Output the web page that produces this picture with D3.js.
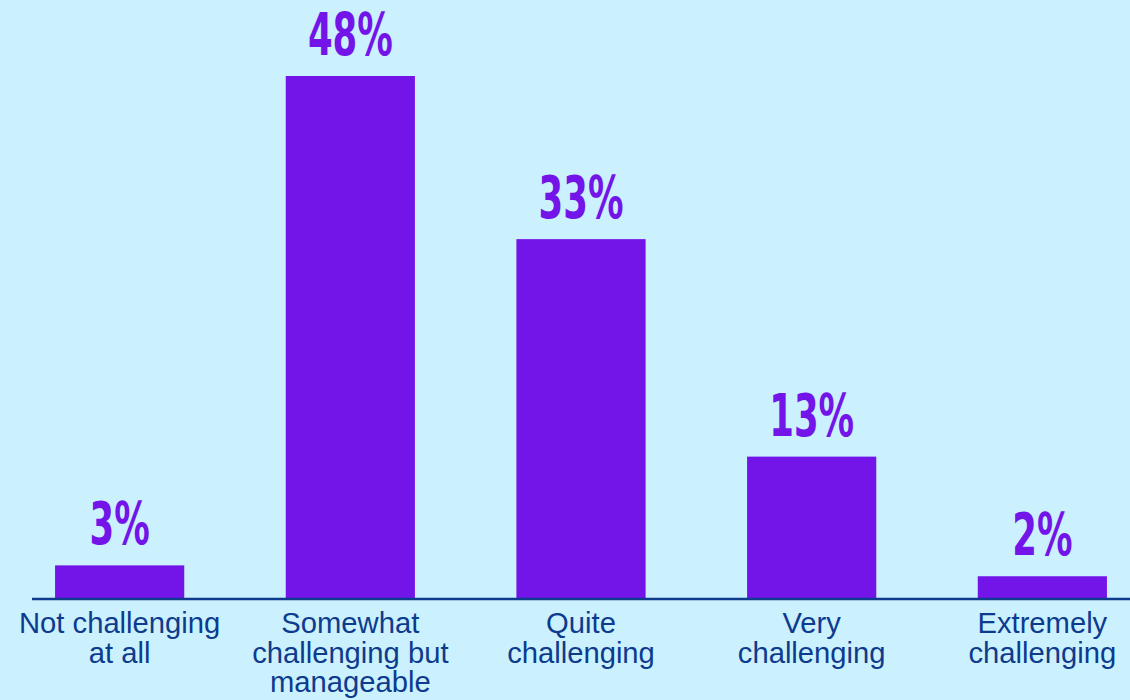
<!DOCTYPE html>
<html>
<head>
<meta charset="utf-8">
<script src="https://cdn.jsdelivr.net/npm/d3@7"></script>
<style>
  html, body { margin: 0; padding: 0; background: #caf1fd; }
  svg { display: block; }
</style>
</head>
<body>
<div id="container"></div>
<script>
const width = 1130,
  height = 700,
  margin = { top: 0, bottom: 102, left: 32, right: 0 };

// data
const categories = [
  "Not challenging at all",
  "Somewhat challenging but manageable",
  "Quite challenging",
  "Very challenging",
  "Extremely challenging"
];
const labelLines = [
  ["Not challenging", "at all"],
  ["Somewhat", "challenging but", "manageable"],
  ["Quite", "challenging"],
  ["Very", "challenging"],
  ["Extremely", "challenging"]
];
const values = [3, 48, 33, 13, 2];

const data = categories.map((c, i) => ({ cat: c, value: values[i], lines: labelLines[i] }));

const svg = d3.select("#container")
  .append("svg")
  .attr("width", width)
  .attr("height", height);

const xScale = d3.scaleBand()
  .domain(categories)
  .range([margin.left, width - margin.right])
  .paddingInner(0.44)
  .paddingOuter(0.1);

const baseY = height - margin.bottom;

const yScale = d3.scaleLinear()
  .domain([0, 48])
  .range([baseY, 76]);

// bars
svg.selectAll(".bar")
  .data(data)
  .join("rect")
  .attr("class", "bar")
  .attr("x", d => xScale(d.cat))
  .attr("y", d => yScale(d.value))
  .attr("width", xScale.bandwidth())
  .attr("height", d => baseY - yScale(d.value))
  .attr("fill", "#7314e8");

// baseline
svg.append("line")
  .attr("x1", margin.left)
  .attr("x2", width)
  .attr("y1", baseY + 1)
  .attr("y2", baseY + 1)
  .attr("stroke", "#0d3b8e")
  .attr("stroke-width", 2.5);

// value labels (condensed look)
svg.selectAll(".val")
  .data(data)
  .join("text")
  .attr("class", "val")
  .attr("transform", d => `translate(${xScale(d.cat) + xScale.bandwidth() / 2}, ${yScale(d.value) - 21}) scale(0.68,1)`)
  .attr("text-anchor", "middle")
  .attr("font-family", "'DejaVu Sans Condensed', 'Liberation Sans Narrow', sans-serif")
  .attr("font-weight", "bold")
  .attr("font-size", 58)
  .attr("fill", "#7314e8")
  .text(d => d.value + "%");

// category labels
const catLabels = svg.selectAll(".cat")
  .data(data)
  .join("text")
  .attr("class", "cat")
  .attr("text-anchor", "middle")
  .attr("font-family", "'Liberation Sans', Arial, sans-serif")
  .attr("font-size", 29.2)
  .attr("fill", "#0d3b8e");

catLabels.selectAll("tspan")
  .data(d => d.lines.map(l => ({ l, x: xScale(d.cat) + xScale.bandwidth() / 2 })))
  .join("tspan")
  .attr("x", d => d.x)
  .attr("y", (d, i) => baseY + 35 + i * 29.5)
  .text(d => d.l);
</script>
</body>
</html>
